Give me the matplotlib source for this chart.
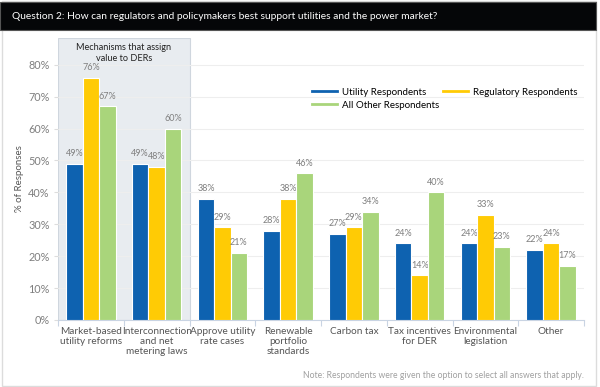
import numpy as np
import matplotlib
matplotlib.use('Agg')
import matplotlib.pyplot as plt
from matplotlib.patches import Rectangle

plt.rcParams['font.family'] = ['Lato', 'DejaVu Sans']

# data
categories = ['Market-based\nutility reforms', 'Interconnection\nand net\nmetering laws',
              'Approve utility\nrate cases', 'Renewable\nportfolio\nstandards', 'Carbon tax',
              'Tax incentives\nfor DER', 'Environmental\nlegislation', 'Other']
utility = [49, 49, 38, 28, 27, 24, 24, 22]
regulatory = [76, 48, 29, 38, 29, 14, 33, 24]
other = [67, 60, 21, 46, 34, 40, 23, 17]
series_names = ['Utility Respondents', 'Regulatory Respondents', 'All Other Respondents']
colors = ['#0e62b0', '#ffcb05', '#a9d57b']

fig = plt.figure(figsize=(6, 3.87), dpi=100)

# outer frame + black title bar
fig.patches.append(Rectangle((0.004, 0.003), 0.99, 0.994, transform=fig.transFigure,
                             fill=False, edgecolor='#dcdcdc', lw=1))
fig.patches.append(Rectangle((0.0, 1 - 30/387), 0.994, 28/387, transform=fig.transFigure,
                             facecolor='#050608', edgecolor='#555555', lw=0.8))
fig.text(12/600, 1 - 16.5/387,
         'Question 2: How can regulators and policymakers best support utilities and the power market?',
         color='white', fontsize=7.4, va='center', ha='left')

ax = fig.add_axes([58/600, 1 - 320/387, 526/600, 282/387])
x = np.arange(len(categories))
w = 0.25

ax.axvspan(-0.5, 1.5, ymin=0, ymax=1, facecolor='#e8ecf0', edgecolor='#cfd6de', lw=0.8, zorder=0)
ax.text(0.5, 86.8, 'Mechanisms that assign\nvalue to DERs', ha='center', va='top',
        fontsize=6.6, color='#222222', linespacing=1.25)

for i, (vals, c) in enumerate(zip([utility, regulatory, other], colors)):
    xs = x + (i - 1) * w
    ax.bar(xs, vals, width=w, color=c, edgecolor='white', lw=0.8, zorder=3, label=series_names[i])
    for xx, v in zip(xs, vals):
        ax.text(xx, v + 1.8, f'{v}%', ha='center', va='bottom', fontsize=6.5, color='#7f7f7f')

ax.set_xlim(-0.5, len(categories) - 0.5)
ax.set_ylim(0, 88.4)
ax.set_yticks(range(0, 81, 10))
ax.set_yticklabels([f'{t}%' for t in range(0, 81, 10)], fontsize=7.8, color='#7f7f7f')
ax.yaxis.grid(True, color='#eeeeee', lw=0.8, zorder=1)
ax.set_axisbelow(True)
ax.set_xticks(x)
ax.set_xticklabels(categories, fontsize=7.2, color='#555555', linespacing=1.15)
ax.set_xticks(np.arange(-0.5, len(categories), 1), minor=True)
ax.tick_params(axis='x', which='major', length=0, pad=5)
ax.tick_params(axis='x', which='minor', length=4, color='#c9d4e3', width=0.8)
ax.tick_params(axis='y', length=3, color='#dddddd', pad=3)
for s in ['top', 'right', 'left']:
    ax.spines[s].set_visible(False)
ax.spines['bottom'].set_color('#c9d4e3')

ax.set_ylabel('% of Responses', fontsize=7, color='#555555', labelpad=3)

# column-major fill: row 1 Utility / Regulatory, row 2 All Other
order = [0, 2, 1]
handles = [plt.Line2D([0], [0], color=colors[k], lw=2) for k in order]
fig.legend(handles, [series_names[k] for k in order], loc='upper left',
           bbox_to_anchor=(303/600, 1 - 79/387),
           ncol=2, frameon=False, fontsize=7, handlelength=2.6, columnspacing=0.4,
           labelspacing=0.4, handletextpad=0.5)

fig.text(584/600, 1 - 376/387,
         'Note: Respondents were given the option to select all answers that apply.',
         ha='right', va='center', fontsize=6.2, color='#a0a0a0')

fig.savefig('out.png', dpi=100)
